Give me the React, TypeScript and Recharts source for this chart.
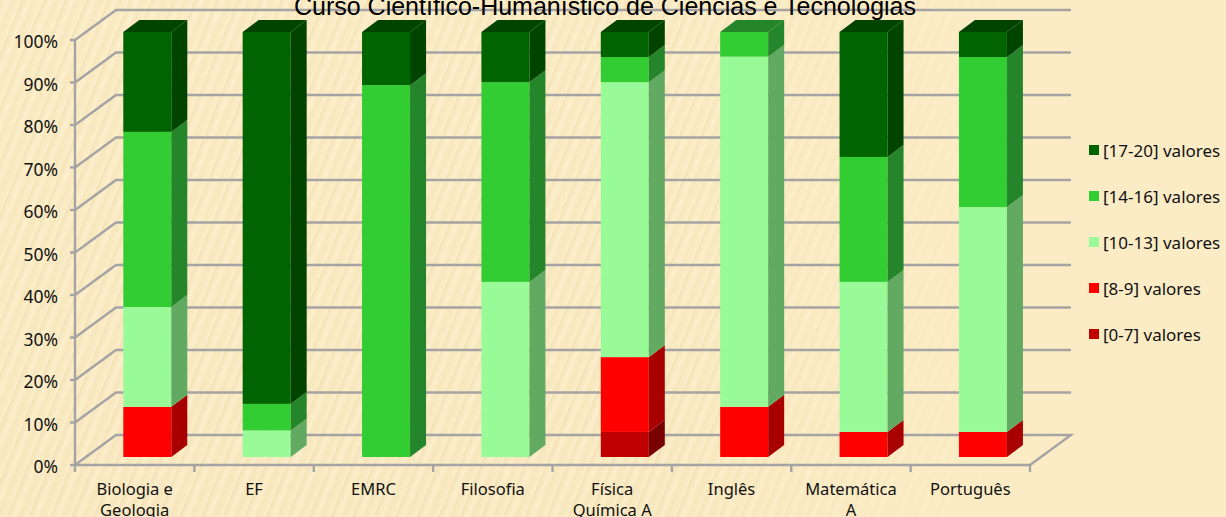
import React from "react";
import { BarChart, Bar, XAxis, YAxis, ReferenceLine, Legend } from "recharts";

const categories = ["Biologia e Geologia", "EF", "EMRC", "Filosofia", "Física Química A", "Inglês", "Matemática A", "Português"];
const tickLabels: Record<string, string[]> = {
  "Biologia e Geologia": ["Biologia e", "Geologia"],
  EF: ["EF"],
  EMRC: ["EMRC"],
  Filosofia: ["Filosofia"],
  "Física Química A": ["Física", "Química A"],
  "Inglês": ["Inglês"],
  "Matemática A": ["Matemática", "A"],
  "Português": ["Português"],
};
const v07 = [0, 0, 0, 0, 5.9, 0, 0, 0];
const v89 = [11.8, 0, 0, 0, 17.6, 11.8, 5.9, 5.9];
const v1013 = [23.5, 6.25, 0, 41.2, 64.7, 82.4, 35.3, 52.9];
const v1416 = [41.2, 6.25, 87.5, 47, 5.9, 5.8, 29.4, 35.3];
const v1720 = [23.5, 87.5, 12.5, 11.8, 5.9, 0, 29.4, 5.9];
const yTicks = [0, 10, 20, 30, 40, 50, 60, 70, 80, 90, 100];
const seriesKeys = ["a", "b", "c", "d", "e"];

const rows: any[] = categories.map((name, i) => ({
  name,
  a: v07[i],
  b: v89[i],
  c: v1013[i],
  d: v1416[i],
  e: v1720[i],
}));

const FONT = "'Noto Sans', Arial, sans-serif";
const TITLE_FONT = "'Liberation Sans', Arial, sans-serif";
const GRID = "#a5a3a4";
const GRID_W = 2.4;
const DX = 12.3;
const DY = -8;
const DEPTH_X = 16;
const DEPTH_Y = -12;
const WALL_X = 41;
const WALL_Y = -30;
const BAND = 119.4;

const makeShape = (key: string, front: string, side: string) => (props: any) => {
  const { x, y, width, height, payload } = props;
  if (!height || height <= 0) return null;
  const l = x + DX;
  const t = y + DY;
  const r = l + width;
  const b = t + height;
  const row = payload ?? {};
  const isTop = seriesKeys.slice(seriesKeys.indexOf(key) + 1).every((k) => !row[k]);
  return (
    <g>
      <rect x={l} y={t} width={width} height={height} fill={front} />
      <polygon points={`${r},${t} ${r + DEPTH_X},${t + DEPTH_Y} ${r + DEPTH_X},${b + DEPTH_Y} ${r},${b}`} fill={side} />
      {isTop && (
        <polygon points={`${l},${t} ${l + DEPTH_X},${t + DEPTH_Y} ${r + DEPTH_X},${t + DEPTH_Y} ${r},${t}`} fill={side} />
      )}
    </g>
  );
};

const WallLine = (props: any) => {
  const { x1, x2, y1 } = props;
  return (
    <polyline
      points={`${x1},${y1} ${x1 + WALL_X},${y1 + WALL_Y} ${x2 + WALL_X},${y1 + WALL_Y}`}
      fill="none"
      stroke={GRID}
      strokeWidth={GRID_W}
    />
  );
};

const FloorEnd = (props: any) => {
  const { x1, x2, y1 } = props;
  return (
    <polyline
      points={`${x1},${y1} ${x1 + WALL_X},${y1 + WALL_Y} ${x2 + WALL_X},${y1 + WALL_Y} ${x2},${y1}`}
      fill="none"
      stroke={GRID}
      strokeWidth={GRID_W}
    />
  );
};

const CategoryTick = (props: any) => {
  const { x, payload, index } = props;
  const lines = tickLabels[payload.value] ?? [payload.value];
  return (
    <g>
      <line x1={x + BAND / 2} x2={x + BAND / 2} y1={465} y2={472} stroke={GRID} strokeWidth={GRID_W} />
      {index === 0 && <line x1={x - BAND / 2} x2={x - BAND / 2} y1={465} y2={472} stroke={GRID} strokeWidth={GRID_W} />}
      <text textAnchor="middle" fontFamily={FONT} fontSize={16.5} fill="#111">
        {lines.map((s: string, i: number) => (
          <tspan key={s} x={x} y={495 + i * 21}>
            {s}
          </tspan>
        ))}
      </text>
    </g>
  );
};

const ValueTick = (props: any) => {
  const { x, y, payload } = props;
  return (
    <text x={x} y={y + 8} textAnchor="end" fontFamily={FONT} fontSize={17.5} fill="#111">
      {`${payload.value}%`}
    </text>
  );
};

const LegendContent = (props: any) => {
  const items = [...(props.payload ?? [])].reverse();
  return (
    <div style={{ fontFamily: FONT, fontSize: 17, color: "#111" }}>
      {items.map((it: any) => (
        <div key={it.value} style={{ height: 46, display: "flex", alignItems: "center", whiteSpace: "nowrap" }}>
          <span style={{ width: 10, height: 10, background: it.color, marginRight: 4, flex: "none" }} />
          {it.value}
        </div>
      ))}
    </div>
  );
};

const background = [
  "linear-gradient(90deg, rgba(252,236,197,0) 0%, rgba(252,236,197,0) 55%, rgba(252,236,197,1) 85%)",
  "repeating-linear-gradient(112deg, rgba(236,219,172,0.5) 0px, rgba(255,243,212,0.5) 7px, rgba(241,225,180,0.4) 12px, rgba(254,241,207,0.5) 20px)",
  "linear-gradient(#fcecc5, #fae9c1)",
].join(",");

export default function App() {
  return (
    <div style={{ position: "fixed", left: 0, top: 0, width: 1226, height: 517, overflow: "hidden", background }}>
      <BarChart
        width={1226}
        height={517}
        data={rows}
        margin={{ top: 40, right: 196, bottom: 0, left: 0 }}
        barCategoryGap="30%"
      >
        <XAxis
          dataKey="name"
          height={52}
          interval={0}
          tick={<CategoryTick />}
          tickLine={false}
          axisLine={{ stroke: GRID, strokeWidth: GRID_W }}
        />
        <YAxis
          width={75}
          domain={[0, 100]}
          ticks={yTicks}
          tick={<ValueTick />}
          tickLine={{ stroke: GRID, strokeWidth: GRID_W }}
          tickSize={5}
          tickMargin={12}
          axisLine={{ stroke: GRID, strokeWidth: GRID_W }}
        />
        {yTicks.map((t) => (
          <ReferenceLine key={t} y={t} zIndex={-50} shape={t === 0 ? <FloorEnd /> : <WallLine />} />
        ))}
        <Bar dataKey="a" name="[0-7] valores" stackId="s" barSize={48} fill="#c00000" isAnimationActive={false} shape={makeShape("a", "#c00000", "#780000")} />
        <Bar dataKey="b" name="[8-9] valores" stackId="s" barSize={48} fill="#ff0000" isAnimationActive={false} shape={makeShape("b", "#ff0000", "#a80000")} />
        <Bar dataKey="c" name="[10-13] valores" stackId="s" barSize={48} fill="#98fb98" isAnimationActive={false} shape={makeShape("c", "#98fb98", "#62a962")} />
        <Bar dataKey="d" name="[14-16] valores" stackId="s" barSize={48} fill="#32cd32" isAnimationActive={false} shape={makeShape("d", "#32cd32", "#24852a")} />
        <Bar dataKey="e" name="[17-20] valores" stackId="s" barSize={48} fill="#006400" isAnimationActive={false} shape={makeShape("e", "#006400", "#004400")} />
        <Legend
          layout="vertical"
          align="center"
          verticalAlign="middle"
          itemSorter={null}
          wrapperStyle={{ left: 1089, top: 127, width: 137 }}
          content={<LegendContent />}
        />
        <text x={605} y={15} textAnchor="middle" fontFamily={TITLE_FONT} fontSize={25} fill="#000">
          Curso Científico-Humanístico de Ciências e Tecnologias
        </text>
      </BarChart>
    </div>
  );
}
